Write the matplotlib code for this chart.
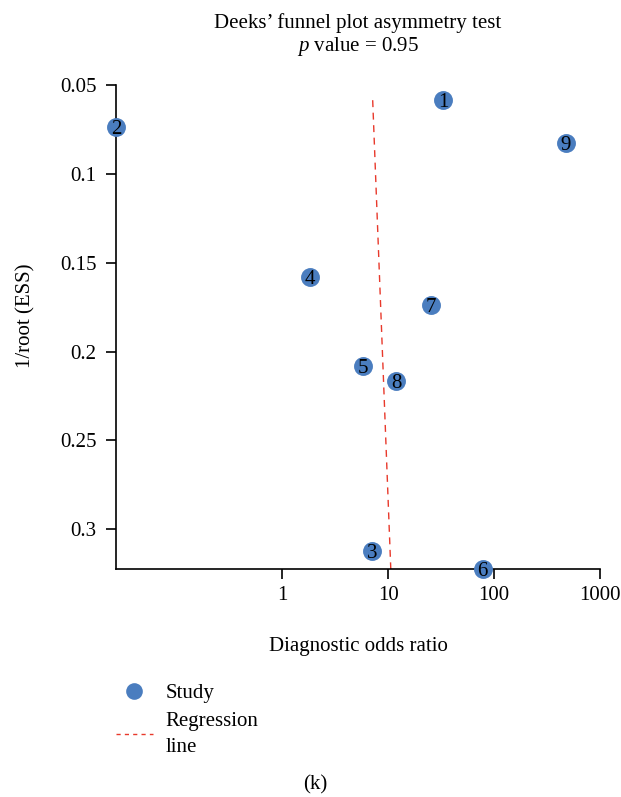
import matplotlib
matplotlib.use("Agg")
import matplotlib.pyplot as plt
from matplotlib.lines import Line2D

plt.rcParams['font.family'] = ['Liberation Serif', 'DejaVu Serif']
plt.rcParams['mathtext.fontset'] = 'custom'
plt.rcParams['mathtext.it'] = 'Liberation Serif:italic'
plt.rcParams['mathtext.rm'] = 'Liberation Serif'

# study data
study = ["1", "2", "3", "4", "5", "6", "7", "8", "9"]
dor = [33, 0.027, 7.1, 1.84, 5.8, 78, 25.5, 11.9, 478]
inv_root_ess = [0.0584, 0.0736, 0.3124, 0.1579, 0.2084, 0.3225, 0.1736, 0.2163, 0.0826]

reg_x = [7.15, 10.6]
reg_y = [0.0584, 0.3225]

blue = "#4a7dbf"
fs = 15

fig = plt.figure(figsize=(6.21, 7.97), dpi=100)
ax = fig.add_axes([0.187, 0.286, 0.779, 0.607])

ax.plot(reg_x, reg_y, linestyle=(0, (5, 4)), color="#e8392b", lw=1.0, zorder=2)
ax.scatter(dor, inv_root_ess, s=185, color=blue, zorder=3, clip_on=False, linewidths=0)
for lab, x, y in zip(study, dor, inv_root_ess):
    ax.text(x, y, lab, ha="center", va="center_baseline", fontsize=fs, zorder=4, clip_on=False)

ax.set_xscale("log")
ax.set_xlim(0.027, 1000)
ax.set_ylim(0.3225, 0.05)
ax.set_xticks([1, 10, 100, 1000])
ax.set_xticklabels(["1", "10", "100", "1000"])
ax.xaxis.set_minor_locator(plt.NullLocator())
ax.set_yticks([0.05, 0.1, 0.15, 0.2, 0.25, 0.3])
ax.set_yticklabels(["0.05", "0.1", "0.15", "0.2", "0.25", "0.3"])
ax.tick_params(labelsize=fs, length=7, width=1.2)
ax.tick_params(axis="y", pad=7)
ax.tick_params(axis="x", pad=5)
for s in ["top", "right"]:
    ax.spines[s].set_visible(False)
for s in ["left", "bottom"]:
    ax.spines[s].set_linewidth(1.2)

ax.set_xlabel("Diagnostic odds ratio", fontsize=fs, labelpad=23)
ax.set_ylabel("1/root (ESS)", fontsize=fs)
ax.yaxis.set_label_coords(-0.167, 0.523)

fig.text(358 / 621, 1 - 23 / 797, "Deeks\u2019 funnel plot asymmetry test", ha="center", va="center", fontsize=fs)
fig.text(358 / 621, 1 - 47 / 797, r"$p$ value = 0.95", ha="center", va="center", fontsize=fs)

handles = [
    Line2D([], [], marker="o", linestyle="none", markersize=12, color=blue, markeredgewidth=0),
    Line2D([], [], linestyle=(0, (3, 3)), color="#e8392b", lw=1.0),
]
leg = fig.legend(handles, ["Study", "Regression\nline"], loc="upper left",
                 bbox_to_anchor=(0.157, 0.166), frameon=False, fontsize=fs,
                 handlelength=1.75, handletextpad=0.6, labelspacing=0.45)
for t in leg.get_texts():
    t.set_linespacing(1.45)

fig.text(315 / 621, 1 - 785 / 797, "(k)", ha="center", va="center", fontsize=fs)

fig.savefig("out.png", dpi=100)
